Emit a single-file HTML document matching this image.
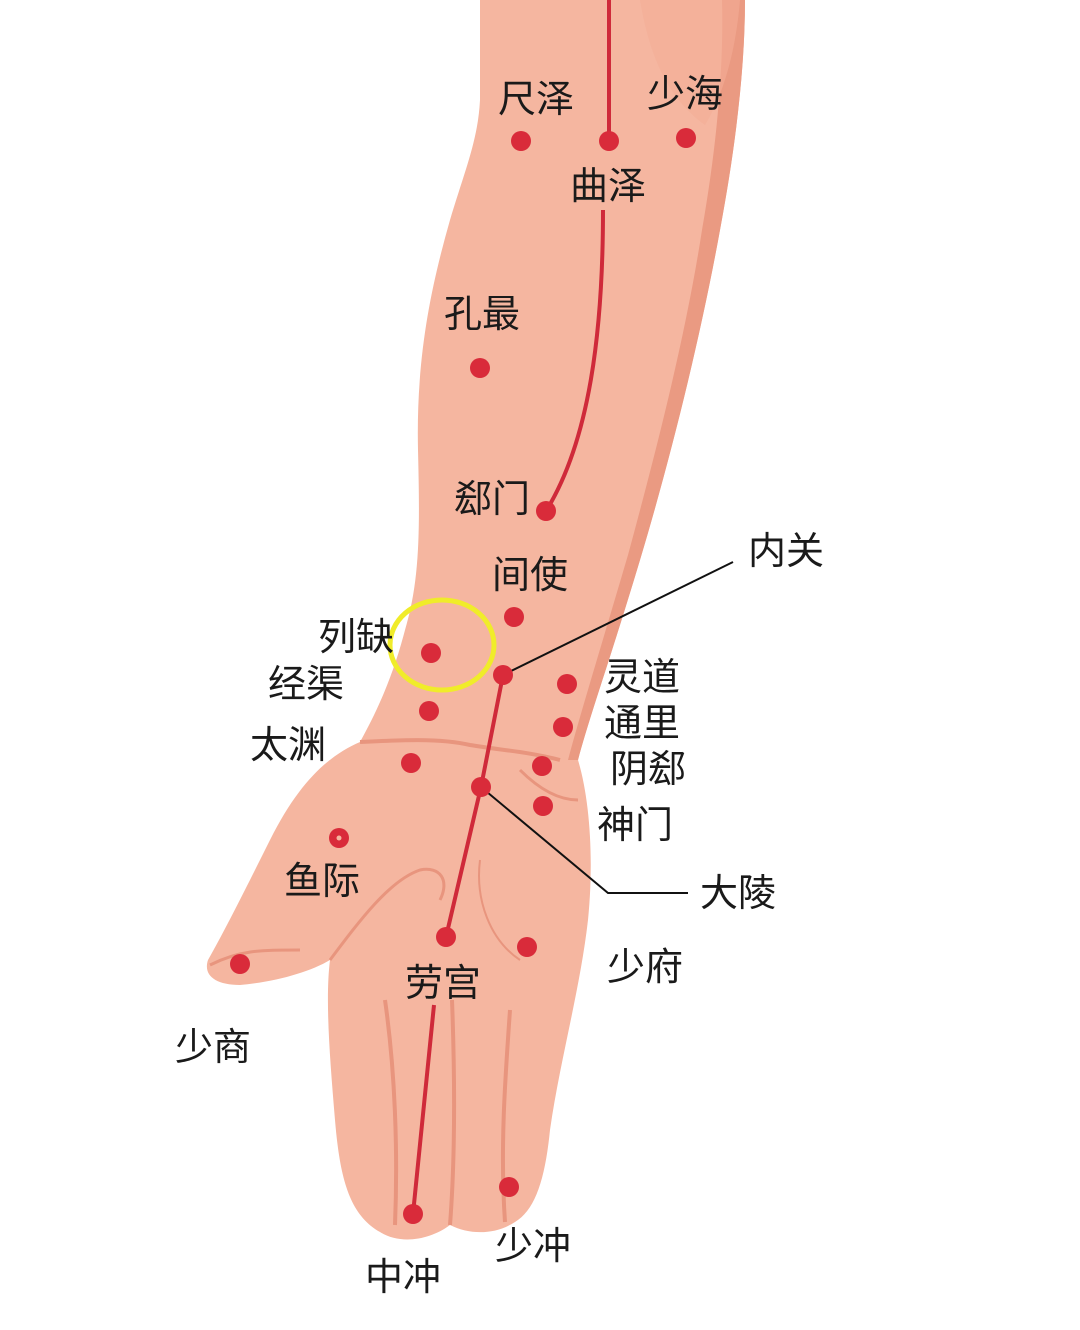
<!DOCTYPE html>
<html><head><meta charset="utf-8"><style>
html,body{margin:0;padding:0;background:#fff}
svg{display:block}
text{font-family:"Liberation Sans","Noto Sans CJK SC",sans-serif;font-size:38px;fill:#1a1a1a}
</style></head><body>
<svg width="1080" height="1330" viewBox="0 0 1080 1330" xmlns="http://www.w3.org/2000/svg">
<path d="M480,0 L480,100 C478,140 465,170 450,220 C430,290 416,360 418,450 C420,530 420,580 405,630 C392,680 375,715 360,742
C330,755 300,780 270,840 C245,890 225,930 208,960 C203,975 215,985 240,985 C275,982 310,972 330,960
C325,1000 330,1060 335,1120 C340,1180 350,1215 380,1232 C400,1245 430,1240 450,1225 C470,1235 495,1235 515,1222
C535,1210 545,1180 550,1130 C560,1060 580,990 588,920 C594,860 590,800 578,760
C590,715 610,660 640,560 C670,460 700,340 720,230 C735,150 745,70 745,0 Z" fill="#f5b6a0"/>
<path d="M745,0 C745,70 735,150 720,230 C700,340 670,460 640,560 C610,660 590,715 578,760 L568,760 C580,715 600,650 628,555 C655,455 685,340 702,230 C716,150 724,70 722,0 Z" fill="#ea9a82"/>
<path d="M640,0 C650,60 670,100 705,125 C720,100 735,60 740,0 Z" fill="#f3ad96" opacity=".6"/>
<path d="M360,742 C400,740 440,738 470,745 C500,750 530,752 560,760" fill="none" stroke="#e8957e" stroke-width="4"/>
<path d="M330,960 C360,920 390,880 420,870 C440,866 450,880 440,900" fill="none" stroke="#e8957e" stroke-width="3"/>
<path d="M210,965 C240,950 260,950 300,950" fill="none" stroke="#e8957e" stroke-width="3"/>
<path d="M480,860 C475,900 490,940 520,960" fill="none" stroke="#e8957e" stroke-width="2"/>
<path d="M520,770 C540,790 560,800 578,800" fill="none" stroke="#e8957e" stroke-width="3"/>
<path d="M385,1000 C395,1070 398,1150 395,1225" fill="none" stroke="#e8957e" stroke-width="4"/>
<path d="M452,1000 C455,1080 455,1160 450,1225" fill="none" stroke="#e8957e" stroke-width="4"/>
<path d="M510,1010 C505,1080 500,1150 505,1222" fill="none" stroke="#e8957e" stroke-width="4"/>
<g stroke="#cf2a3a" stroke-width="4" fill="none">
<path d="M609,0 L609,141"/>
<path d="M603,210 C603,330 590,440 546,511"/>
<path d="M503,675 L481,787 L446,937"/>
<path d="M434,1005 L413,1214"/>
</g>
<g stroke="#111" stroke-width="2" fill="none">
<path d="M503,675 L733,562"/>
<path d="M481,787 L608,893 L688,893"/>
</g>
<g fill="#d92b3a">
<circle cx="521" cy="141" r="10"/><circle cx="609" cy="141" r="10"/><circle cx="686" cy="138" r="10"/>
<circle cx="480" cy="368" r="10"/><circle cx="546" cy="511" r="10"/><circle cx="514" cy="617" r="10"/>
<circle cx="431" cy="653" r="10"/><circle cx="503" cy="675" r="10"/><circle cx="567" cy="684" r="10"/>
<circle cx="429" cy="711" r="10"/><circle cx="563" cy="727" r="10"/><circle cx="411" cy="763" r="10"/>
<circle cx="542" cy="766" r="10"/><circle cx="481" cy="787" r="10"/><circle cx="543" cy="806" r="10"/>
<circle cx="339" cy="838" r="10"/><circle cx="446" cy="937" r="10"/><circle cx="527" cy="947" r="10"/>
<circle cx="240" cy="964" r="10"/><circle cx="509" cy="1187" r="10"/><circle cx="413" cy="1214" r="10"/>
</g>
<circle cx="339" cy="838" r="2.5" fill="#f5b6a0"/>
<ellipse cx="442" cy="645" rx="52" ry="45" fill="none" stroke="#f0ec2a" stroke-width="5"/>
<text x="498" y="112">尺泽</text>
<text x="647" y="107">少海</text>
<text x="570" y="199">曲泽</text>
<text x="444" y="327">孔最</text>
<text x="454" y="512">郄门</text>
<text x="492" y="588">间使</text>
<text x="748" y="564">内关</text>
<text x="318" y="650">列缺</text>
<text x="268" y="697">经渠</text>
<text x="604" y="690">灵道</text>
<text x="604" y="736">通里</text>
<text x="250" y="758">太渊</text>
<text x="610" y="782">阴郄</text>
<text x="597" y="838">神门</text>
<text x="284" y="894">鱼际</text>
<text x="700" y="906">大陵</text>
<text x="607" y="980">少府</text>
<text x="405" y="996">劳宫</text>
<text x="175" y="1060">少商</text>
<text x="495" y="1259">少冲</text>
<text x="365" y="1290">中冲</text>
</svg>
</body></html>
